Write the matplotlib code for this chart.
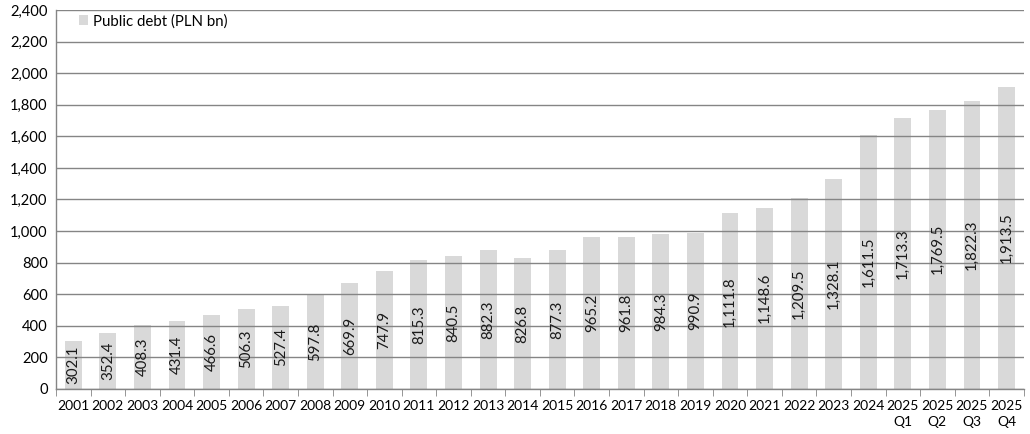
import matplotlib
matplotlib.use("Agg")
import matplotlib.pyplot as plt
import numpy as np

categories = ["2001", "2002", "2003", "2004", "2005", "2006", "2007", "2008", "2009", "2010",
              "2011", "2012", "2013", "2014", "2015", "2016", "2017", "2018", "2019", "2020",
              "2021", "2022", "2023", "2024", "2025\nQ1", "2025\nQ2", "2025\nQ3", "2025\nQ4"]
debt = [302.1, 352.4, 408.3, 431.4, 466.6, 506.3, 527.4, 597.8, 669.9, 747.9,
        815.3, 840.5, 882.3, 826.8, 877.3, 965.2, 961.8, 984.3, 990.9, 1111.8,
        1148.6, 1209.5, 1328.1, 1611.5, 1713.3, 1769.5, 1822.3, 1913.5]
series_name = "Public debt (PLN bn)"
yticks = list(range(0, 2401, 200))

plt.rcParams['font.family'] = ['Lato', 'DejaVu Sans']
fig = plt.figure(figsize=(10.3, 4.34), dpi=100)
ax = fig.add_axes([0.0544, 0.1037, 0.9396, 0.8733])

x = np.arange(len(categories))
bars = ax.bar(x, debt, width=0.49, color="#d9d9d9", label=series_name, zorder=1)

for xi, v in zip(x, debt):
    ax.text(xi, v / 2, f"{v:,.1f}", rotation=90, ha="center", va="center",
            fontsize=10.8, color="#1a1a1a", zorder=3)

ax.set_xlim(-0.5, len(categories) - 0.5)
ax.set_ylim(0, 2400)
ax.set_yticks(yticks)
ax.set_yticklabels([f"{t:,}" for t in yticks], fontsize=10.6)
ax.yaxis.grid(True, color="#858585", linewidth=1.0, zorder=2)
ax.set_axisbelow(False)
for gl in ax.get_ygridlines():
    gl.set_zorder(2)
ax.tick_params(axis="y", length=0, pad=6)

ax.set_xticks(x)
ax.set_xticklabels(categories, fontsize=10.0, linespacing=1.4)
ax.set_xticks(np.arange(-0.5, len(categories), 1), minor=True)
ax.tick_params(axis="x", which="major", length=0, pad=8)
ax.tick_params(axis="x", which="minor", length=5, color="#858585", direction="out")

for s in ["top", "right"]:
    ax.spines[s].set_visible(False)
for s in ["left", "bottom"]:
    ax.spines[s].set_color("#858585")
    ax.spines[s].set_linewidth(1.0)
    ax.spines[s].set_zorder(4)

leg = ax.legend(loc="upper left", bbox_to_anchor=(0.01, 1.025), frameon=False,
                fontsize=10.8, handlelength=0.6, handleheight=0.6, handletextpad=0.3)

fig.savefig("out.png", dpi=100)
